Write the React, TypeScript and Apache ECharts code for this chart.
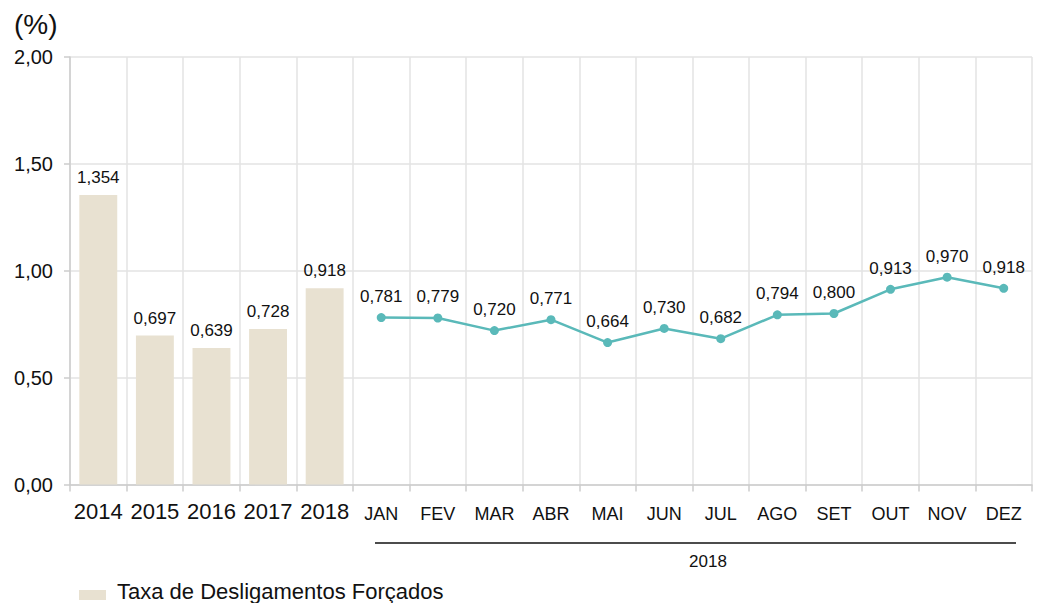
import React, { useEffect, useRef } from "react";
import * as echarts from "echarts";

const categories = ["2014", "2015", "2016", "2017", "2018", "JAN", "FEV", "MAR", "ABR", "MAI", "JUN", "JUL", "AGO", "SET", "OUT", "NOV", "DEZ"];
const annualValues = [1.354, 0.697, 0.639, 0.728, 0.918];
const monthlyValues = [0.781, 0.779, 0.72, 0.771, 0.664, 0.73, 0.682, 0.794, 0.8, 0.913, 0.97, 0.918];
const seriesName = "Taxa de Desligamentos Forçados";
const yearGroupLabel = "2018";
const unitLabel = "(%)";

const fmt = (v: number, d: number) => v.toFixed(d).replace(".", ",");

export default function App() {
  const ref = useRef<HTMLDivElement>(null);
  useEffect(() => {
    if (!ref.current) return;
    const chart = echarts.init(ref.current, null, { renderer: "svg" });
    const nYears = annualValues.length;
    const barData = categories.map((_, i) => (i < nYears ? annualValues[i] : "-"));
    const lineData = categories.map((_, i) => (i >= nYears ? monthlyValues[i - nYears] : "-"));
    const font = "Liberation Sans, Arial, Helvetica, sans-serif";
    const barColor = "#e8e1d1";
    const lineColor = "#5ab9b9";
    chart.setOption({
      animation: false,
      textStyle: { fontFamily: font },
      grid: { left: 70, right: 6, top: 57, bottom: 118.5, containLabel: false },
      legend: { show: false, data: [seriesName] },
      xAxis: {
        type: "category",
        data: categories,
        boundaryGap: true,
        axisLine: { lineStyle: { color: "#cccccc", width: 1.5 } },
        axisTick: { show: true, interval: 0, length: 7, lineStyle: { color: "#cccccc", width: 1.5 } },
        splitLine: { show: true, interval: 0, lineStyle: { color: "#e3e3e3", width: 1.5 } },
        axisLabel: {
          interval: 0,
          margin: 14,
          formatter: (v: string, i: number) => (i < nYears ? `{y|${v}}` : `{m|${v}}`),
          rich: {
            y: { fontSize: 22, color: "#111", fontFamily: font, height: 26, verticalAlign: "top" },
            m: { fontSize: 18, color: "#111", fontFamily: font, height: 26, verticalAlign: "top", padding: [2, 0, 0, 0] },
          },
        },
      },
      yAxis: {
        type: "value",
        min: 0,
        max: 2,
        interval: 0.5,
        axisLine: { show: true, lineStyle: { color: "#cccccc", width: 1.5 } },
        axisTick: { show: true, length: 6, lineStyle: { color: "#cccccc", width: 1.5 } },
        splitLine: { show: true, lineStyle: { color: "#e3e3e3", width: 1.5 } },
        axisLabel: { fontSize: 20, color: "#111", margin: 17, formatter: (v: number) => fmt(v, 2) },
      },
      graphic: [
        { type: "text", left: 14, top: 10, style: { text: unitLabel, fontSize: 28, fill: "#111", fontFamily: font } },
        { type: "line", shape: { x1: 375, y1: 543, x2: 1016, y2: 543 }, style: { stroke: "#111", lineWidth: 1.3 } },
        { type: "text", x: 708, y: 561, style: { text: yearGroupLabel, fontSize: 17, fill: "#111", fontFamily: font, align: "center", verticalAlign: "middle" } },
        { type: "rect", shape: { x: 79, y: 590, width: 27, height: 10 }, style: { fill: barColor } },
        { type: "text", x: 117, y: 591, style: { text: seriesName, fontSize: 22, fill: "#111", fontFamily: font, align: "left", verticalAlign: "middle" } },
      ],
      series: [
        {
          name: seriesName,
          type: "bar",
          data: barData,
          barWidth: "67%",
          itemStyle: { color: barColor },
          label: { show: true, position: "top", distance: 9, fontSize: 17, color: "#111", formatter: (p: any) => fmt(p.value, 3) },
        },
        {
          name: "Mensal",
          type: "line",
          data: lineData,
          symbol: "circle",
          symbolSize: 9,
          lineStyle: { color: lineColor, width: 2.5 },
          itemStyle: { color: lineColor },
          label: { show: true, position: "top", distance: 8, fontSize: 17, color: "#111", formatter: (p: any) => fmt(p.value, 3) },
        },
      ],
    });
    return () => chart.dispose();
  }, []);
  return <div ref={ref} style={{ position: "absolute", left: 0, top: 0, width: 1038, height: 603 }} />;
}
